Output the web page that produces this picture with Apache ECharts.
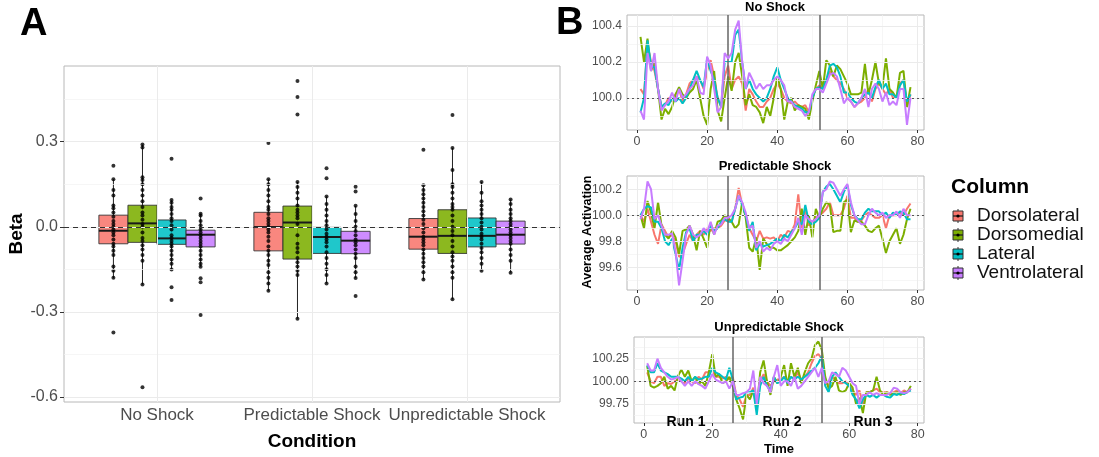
<!DOCTYPE html>
<html>
<head>
<meta charset="utf-8">
<script src="https://cdn.jsdelivr.net/npm/echarts@6/dist/echarts.min.js"></script>
<style>
  html, body { margin: 0; background: #fff; }
  #chart { width: 1099px; height: 457px; }
</style>
</head>
<body>
<div id="chart"></div>
<script>
// ---- data ----
const conditions = ['No Shock', 'Predictable Shock', 'Unpredictable Shock']
const columns = ['Dorsolateral', 'Dorsomedial', 'Lateral', 'Ventrolateral']
const colors = ['#F8766D', '#7CAE00', '#00BFC4', '#C77CFF']

// box stats per condition: [lower whisker, q1, median, q3, upper whisker]
const boxDorsolateral = [[-0.182, -0.060, -0.014, 0.041, 0.168], [-0.226, -0.085, -0.001, 0.051, 0.168], [-0.186, -0.079, -0.035, 0.029, 0.146]]
const boxDorsomedial = [[-0.204, -0.055, 0.012, 0.076, 0.290], [-0.324, -0.114, 0.015, 0.073, 0.158], [-0.256, -0.094, -0.032, 0.060, 0.278]]
const boxLateral = [[-0.151, -0.062, -0.041, 0.024, 0.094], [-0.200, -0.094, -0.036, -0.002, 0.107], [-0.155, -0.071, -0.032, 0.031, 0.158]]
const boxVentrolateral = [[-0.141, -0.071, -0.028, -0.012, 0.046], [-0.181, -0.095, -0.049, -0.016, 0.074], [-0.162, -0.061, -0.028, 0.020, 0.096]]

// individual betas per condition
const betaDorsolateral = [
  [0.215, 0.168, 0.13, 0.11, 0.075, 0.065, 0.05, 0.035, 0.02, 0.01, 0.0, -0.01, -0.02, -0.03, -0.045, -0.06, -0.07, -0.085, -0.1, -0.14, -0.155, -0.18, -0.373],
  [0.295, 0.168, 0.15, 0.13, 0.11, 0.09, 0.07, 0.06, 0.045, 0.03, 0.02, 0.01, 0.0, -0.01, -0.02, -0.035, -0.05, -0.07, -0.085, -0.1, -0.12, -0.135, -0.16, -0.18, -0.2, -0.226],
  [0.272, 0.146, 0.13, 0.115, 0.1, 0.085, 0.07, 0.055, 0.04, 0.025, 0.01, -0.005, -0.02, -0.035, -0.045, -0.055, -0.065, -0.08, -0.095, -0.11, -0.125, -0.14, -0.16, -0.186]
]
const betaDorsomedial = [
  [0.29, 0.28, 0.175, 0.165, 0.15, 0.13, 0.11, 0.09, 0.07, 0.05, 0.04, 0.025, 0.01, 0.0, -0.02, -0.04, -0.05, -0.065, -0.08, -0.1, -0.12, -0.204, -0.566],
  [0.514, 0.458, 0.396, 0.158, 0.14, 0.12, 0.1, 0.075, 0.06, 0.05, 0.04, 0.03, 0.01, -0.03, -0.06, -0.075, -0.09, -0.11, -0.125, -0.14, -0.155, -0.17, -0.324],
  [0.394, 0.278, 0.2, 0.15, 0.14, 0.12, 0.1, 0.08, 0.07, 0.06, 0.04, 0.02, 0.0, -0.015, -0.03, -0.05, -0.07, -0.09, -0.105, -0.12, -0.14, -0.16, -0.18, -0.256]
]
const betaLateral = [
  [0.24, 0.094, 0.085, 0.07, 0.06, 0.045, 0.03, 0.02, 0.005, -0.01, -0.03, -0.04, -0.05, -0.06, -0.07, -0.085, -0.1, -0.115, -0.13, -0.151, -0.213, -0.258],
  [0.206, 0.171, 0.107, 0.08, 0.06, 0.04, 0.02, 0.005, -0.01, -0.025, -0.035, -0.045, -0.055, -0.07, -0.09, -0.11, -0.13, -0.15, -0.17, -0.2],
  [0.158, 0.12, 0.09, 0.075, 0.06, 0.045, 0.03, 0.015, 0.0, -0.01, -0.025, -0.035, -0.045, -0.06, -0.075, -0.09, -0.11, -0.13, -0.155]
]
const betaVentrolateral = [
  [0.1, 0.046, 0.04, 0.02, 0.005, -0.01, -0.02, -0.03, -0.04, -0.05, -0.06, -0.07, -0.085, -0.1, -0.115, -0.13, -0.141, -0.182, -0.196, -0.311],
  [0.141, 0.124, 0.074, 0.045, 0.02, 0.0, -0.015, -0.03, -0.045, -0.055, -0.065, -0.08, -0.095, -0.11, -0.14, -0.16, -0.181, -0.244],
  [0.096, 0.08, 0.06, 0.045, 0.03, 0.02, 0.01, 0.0, -0.01, -0.02, -0.03, -0.04, -0.05, -0.06, -0.08, -0.1, -0.12, -0.162]
]

// average activation time courses (time 1..78)
const time = Array.from({ length: 78 }, (_, i) => i + 1)

const noShockDorsolateral = [
  100.05, 100.02, 100.3, 100.2, 100.15, 100.05, 99.95, 99.96, 100.0, 99.98,
  100.02, 100.05, 99.98, 100.02, 100.08, 100.1, 100.12, 100.1, 100.05, 100.15,
  100.21, 100.12, 100.0, 99.95, 100.12, 100.18, 100.05, 100.1, 100.12, 100.08,
  99.93, 100.05, 100.02, 99.98, 99.95, 99.95, 99.98, 100.0, 100.05, 100.08,
  100.05, 100.0, 99.98, 99.97, 99.98, 99.96, 99.95, 99.96, 99.92, 100.0,
  100.05, 100.07, 100.05, 100.1, 100.15, 100.12, 100.1, 100.08, 100.05, 100.0,
  99.98, 99.95, 99.97, 99.98, 100.0, 100.05, 99.98, 100.05, 100.08, 100.05,
  100.02, 100.05, 100.0, 100.0, 100.08, 100.1, 99.95, 100.02
]
const noShockDorsomedial = [
  100.34, 100.2, 100.33, 100.15, 100.2, 100.05, 99.88, 99.94, 99.91, 99.95,
  100.02, 100.06, 100.02, 100.0, 100.03, 100.05, 100.1, 100.0, 99.9, 99.85,
  100.05, 100.15, 99.93, 99.87, 100.0, 100.12, 100.04, 100.2, 100.25, 100.12,
  99.96, 100.02, 99.96, 99.95, 99.92, 99.86, 99.95, 99.9, 100.0, 100.12,
  100.05, 99.88, 99.98, 100.0, 99.93, 99.96, 99.95, 99.94, 99.88, 99.98,
  100.07, 100.15, 100.05, 100.21, 100.18, 100.12, 100.18, 100.16, 100.12, 100.08,
  100.02, 100.02, 100.02, 100.03, 100.19, 100.02, 100.1, 100.2, 100.08, 100.06,
  100.22, 100.05, 100.03, 100.0, 100.14, 100.15, 99.95, 100.06
]
const noShockLateral = [
  99.92, 100.0, 100.32, 100.18, 100.17, 100.05, 99.95, 99.97, 99.96, 100.0,
  99.98, 100.0, 99.97, 100.0, 100.05, 100.1, 100.15, 100.1, 100.06, 100.22,
  100.15, 100.1, 100.0, 99.95, 100.2, 100.2, 100.2, 100.35, 100.38, 100.2,
  100.05, 100.1, 100.05, 100.02, 100.0, 99.98, 100.0, 100.05, 100.12, 100.17,
  100.1, 100.05, 100.0, 99.98, 99.96, 99.95, 99.94, 99.92, 99.92, 100.0,
  100.05, 100.06, 100.05, 100.1, 100.18, 100.19, 100.17, 100.12, 100.03, 100.03,
  100.0, 99.98, 99.97, 100.0, 100.02, 100.03, 100.0, 100.06, 100.1, 100.05,
  100.08, 100.02, 100.02, 100.0, 100.07, 100.1, 99.98, 100.02
]
const noShockVentrolateral = [
  99.93, 99.88, 100.25, 100.15, 100.25, 100.05, 99.93, 99.96, 99.98, 100.03,
  99.98, 100.05, 100.0, 100.02, 100.05, 100.07, 100.12, 100.03, 100.02, 100.23,
  100.18, 100.05, 99.92, 99.95, 100.25, 100.22, 100.25, 100.38, 100.43, 100.2,
  100.05, 100.14, 100.1, 100.05, 100.08, 100.05, 100.07, 100.07, 100.1, 100.12,
  100.1, 100.07, 99.98, 99.98, 99.95, 99.94, 99.93, 99.9, 99.92, 100.02,
  100.05, 100.05, 100.03, 100.08, 100.13, 100.14, 100.12, 100.05, 99.97, 100.0,
  99.98, 99.95, 99.97, 100.0, 100.05, 99.95, 100.05, 100.08, 100.05, 99.98,
  100.03, 99.96, 99.98, 99.96, 100.05, 100.05, 99.85, 100.0
]

const predDorsolateral = [
  100.0, 99.95, 100.05, 99.95, 99.85, 99.78, 99.93, 99.88, 99.83, 99.85,
  99.8, 99.68, 99.7, 99.78, 99.85, 99.8, 99.85, 99.88, 99.85, 99.9,
  99.88, 99.9, 99.9, 99.92, 99.96, 99.96, 99.95, 100.05, 100.21, 100.08,
  100.0, 99.9, 99.85, 99.8, 99.88, 99.82, 99.83, 99.82, 99.83, 99.8,
  99.85, 99.83, 99.88, 99.87, 99.93, 100.16, 99.9, 100.05, 99.92, 99.95,
  99.98, 100.0, 100.02, 100.05, 100.1, 100.0, 100.0, 100.0, 100.05, 100.15,
  99.98, 99.98, 99.95, 99.96, 100.0, 100.02, 100.0, 99.98, 99.98, 100.0,
  99.9, 100.0, 100.0, 100.0, 100.02, 100.0, 100.05, 100.09
]
const predDorsomedial = [
  100.0, 99.9, 100.11, 100.02, 99.9, 100.1, 99.92, 99.85, 99.82, 99.88,
  99.83, 99.7, 99.88, 99.89, 99.92, 99.85, 99.73, 99.88, 99.82, 99.75,
  99.94, 99.85, 99.95, 99.96, 100.0, 99.98, 99.95, 99.9, 99.93, 100.1,
  99.98, 99.75, 99.72, 99.83, 99.58, 99.82, 99.78, 99.75, 99.75, 99.73,
  99.73, 99.75, 99.77, 99.8, 99.83, 99.88, 100.05, 99.85, 100.0, 99.83,
  100.05, 99.98, 100.05, 100.1, 100.08, 99.87, 99.88, 99.88, 100.1, 100.12,
  99.87, 99.96, 99.95, 99.95, 99.92, 99.88, 99.87, 99.9, 99.92, 99.82,
  99.71, 99.8, 99.85, 99.9, 99.78, 99.85, 99.97, 100.05
]
const predLateral = [
  100.0, 100.05, 100.07, 100.06, 99.95, 99.95, 99.9, 99.8, 99.77, 99.82,
  99.7, 99.58, 99.75, 99.87, 99.9, 99.8, 99.85, 99.85, 99.88, 99.85,
  99.92, 99.88, 99.9, 99.95, 99.97, 99.95, 99.95, 100.05, 100.15, 100.08,
  100.0, 99.88, 99.95, 99.73, 99.78, 99.76, 99.77, 99.78, 99.8, 99.82,
  99.8, 99.85, 99.83, 99.87, 99.9, 99.95, 99.93, 100.08, 99.95, 99.93,
  99.95, 99.98, 100.18, 100.22, 100.24, 100.2, 100.15, 100.1, 100.18, 100.23,
  100.08, 100.0, 99.97, 99.97, 100.02, 100.05, 100.03, 100.03, 100.03, 100.0,
  100.02, 99.98, 100.02, 100.0, 100.03, 100.02, 99.97, 99.97
]
const predVentrolateral = [
  99.97, 100.05, 100.26, 100.2, 99.97, 100.0, 99.92, 99.85, 99.85, 99.86,
  99.72, 99.46, 99.65, 99.85, 99.92, 99.85, 99.83, 99.85, 99.9, 99.87,
  99.95, 99.85, 99.92, 99.93, 99.98, 99.98, 100.0, 100.05, 100.15, 100.1,
  100.02, 99.9, 99.92, 99.75, 99.8, 99.72, 99.75, 99.73, 99.78, 99.8,
  99.78, 99.82, 99.8, 99.85, 99.9, 99.98, 99.85, 100.0, 99.97, 99.95,
  99.97, 100.0, 100.18, 100.2, 100.26, 100.25, 100.2, 100.15, 100.2, 100.24,
  100.1, 100.0, 99.96, 99.93, 99.93, 100.0, 100.05, 100.02, 100.0, 100.02,
  99.98, 100.0, 100.0, 100.03, 99.98, 100.05, 100.0, 100.0
]

const unpredDorsolateral = [
  100.1, 100.0, 99.98, 100.05, 100.05, 99.95, 99.98, 99.97, 100.0, 100.02,
  100.0, 99.98, 100.03, 100.0, 99.98, 100.05, 100.02, 100.1, 100.1, 100.12,
  100.05, 100.05, 100.03, 100.05, 100.02, 100.05, 99.85, 99.8, 99.72, 99.85,
  99.85, 99.93, 99.75, 100.0, 100.08, 100.0, 99.95, 100.0, 100.02, 100.02,
  100.05, 100.0, 100.05, 100.02, 100.1, 100.02, 100.05, 100.1, 100.2, 100.28,
  100.3, 100.25, 100.0, 99.95, 100.05, 100.02, 99.98, 99.98, 100.0, 99.95,
  99.9, 99.85, 99.9, 99.75, 99.88, 99.88, 99.9, 99.92, 99.88, 99.88,
  99.88, 99.87, 99.88, 99.9, 99.87, 99.9, 99.88, 99.92
]
const unpredDorsomedial = [
  100.17, 99.95, 99.93, 99.95, 99.98, 100.05, 99.92, 99.95, 99.9, 100.06,
  100.13, 100.05, 100.12, 100.0, 100.05, 99.97, 100.0, 99.95, 100.1, 100.3,
  100.05, 100.08, 99.98, 100.0, 100.05, 99.95, 99.8, 99.7, 99.58, 99.85,
  99.8, 99.9, 99.7, 100.1, 100.23, 100.0, 99.85, 100.05, 99.98, 100.05,
  100.18, 99.95, 100.2, 100.05, 100.15, 99.98, 100.1, 100.2, 100.25, 100.4,
  100.44, 100.35, 100.05, 99.92, 99.95, 100.05, 99.9, 99.88, 99.9, 99.98,
  99.93, 99.75, 99.82, 99.65, 99.88, 99.88, 99.9, 100.05, 99.9, 99.85,
  99.88, 99.85, 99.87, 99.88, 99.85, 99.88, 99.88, 99.95
]
const unpredLateral = [
  100.18, 100.1, 100.1, 100.2, 100.12, 100.1, 100.08, 100.05, 100.05, 100.05,
  100.03, 100.0, 100.05, 100.0, 100.05, 100.02, 100.03, 100.05, 100.05, 100.15,
  100.1, 100.08, 100.05, 100.02, 100.15, 100.02, 99.8, 99.82, 99.83, 99.88,
  99.88, 99.9, 99.63, 99.95, 100.05, 99.95, 99.9, 100.05, 99.98, 100.0,
  100.05, 99.98, 100.05, 100.02, 100.05, 100.02, 100.05, 100.08, 100.12, 100.15,
  100.2, 100.28, 99.95, 99.88, 100.05, 100.1, 100.05, 100.0, 99.98, 99.95,
  99.85, 99.8, 99.7, 99.8, 99.85, 99.83, 99.85, 99.82, 99.85, 99.85,
  99.83, 99.82, 99.86, 99.85, 99.87, 99.86, 99.88, 99.9
]
const unpredVentrolateral = [
  100.2, 100.12, 100.12, 100.25, 100.15, 100.1, 100.05, 100.02, 100.03, 100.05,
  100.0, 99.95, 100.0, 99.95, 100.0, 99.97, 99.95, 99.92, 100.0, 100.08,
  100.02, 100.0, 99.98, 100.0, 99.92, 100.0, 99.85, 99.85, 99.87, 99.88,
  99.92, 100.12, 99.75, 100.05, 99.98, 99.95, 99.88, 100.05, 100.18, 99.95,
  100.0, 100.0, 99.95, 100.05, 99.92, 99.95, 100.0, 100.05, 100.1, 100.15,
  100.05, 100.15, 99.98, 100.0, 100.1, 100.08, 100.05, 100.15, 100.12, 100.05,
  99.98, 99.95, 99.75, 99.85, 99.85, 99.88, 99.85, 99.87, 99.85, 99.85,
  99.85, 99.87, 99.93, 99.92, 99.88, 99.87, 99.88, 99.92
]

const runBoundaries = [26, 52]
const runLabels = ['Run 1', 'Run 2', 'Run 3']
const timeTicks = [0, 20, 40, 60, 80]

// ---- layout / style ----
const FONT = 'Liberation Sans, Arial, sans-serif'
const GREY_TXT = '#4d4d4d'
const GRID_COL = '#ebebeb'
const BORDER = '#b8b8b8'

const boxes = [boxDorsolateral, boxDorsomedial, boxLateral, boxVentrolateral]
const betas = [betaDorsolateral, betaDorsomedial, betaLateral, betaVentrolateral]
const dodge = [-0.28125, -0.09375, 0.09375, 0.28125]
const boxWidth = 0.1875

const chart = echarts.init(document.getElementById('chart'))

const boxRender = (col) => (params, api) => {
  const xc = api.value(0) + dodge[col]
  const half = boxWidth / 2
  const lo = api.coord([xc, api.value(1)])
  const hi = api.coord([xc, api.value(5)])
  const tl = api.coord([xc - half, api.value(4)])
  const br = api.coord([xc + half, api.value(2)])
  const mL = api.coord([xc - half, api.value(3)])
  const mR = api.coord([xc + half, api.value(3)])
  return {
    type: 'group',
    children: [
      { type: 'line', shape: { x1: lo[0], y1: lo[1], x2: hi[0], y2: hi[1] }, style: { stroke: '#222', lineWidth: 1 } },
      { type: 'rect', shape: { x: tl[0], y: tl[1], width: br[0] - tl[0], height: br[1] - tl[1] },
        style: { fill: colors[col], opacity: 0.88, stroke: '#333', lineWidth: 1 } },
      { type: 'line', shape: { x1: mL[0], y1: mL[1], x2: mR[0], y2: mR[1] }, style: { stroke: '#1a1a1a', lineWidth: 2 } }
    ]
  }
}

const gridLines = (xIdx, yIdx, xs, ys, minorXs, minorYs) => ({
  type: 'line', xAxisIndex: xIdx, yAxisIndex: yIdx, data: [], silent: true, z: 0,
  markLine: {
    silent: true, symbol: 'none', animation: false, label: { show: false },
    data: [
      ...minorYs.map(v => ({ yAxis: v, lineStyle: { color: '#f2f2f2', width: 0.7, type: 'solid' } })),
      ...minorXs.map(v => ({ xAxis: v, lineStyle: { color: '#f2f2f2', width: 0.7, type: 'solid' } })),
      ...ys.map(v => ({ yAxis: v, lineStyle: { color: GRID_COL, width: 1, type: 'solid' } })),
      ...xs.map(v => ({ xAxis: v, lineStyle: { color: GRID_COL, width: 1, type: 'solid' } }))
    ]
  }
})

const timeAxis = (gridIndex, showName) => ({
  type: 'value', gridIndex, min: -2.85, max: 81.85,
  axisLine: { show: false }, splitLine: { show: false },
  axisTick: { show: true, customValues: timeTicks, length: 3, lineStyle: { color: '#333' } },
  axisLabel: { customValues: timeTicks, color: GREY_TXT, fontSize: 12.5, fontFamily: FONT, margin: 5 },
  name: showName ? 'Time' : '', nameLocation: 'middle', nameGap: 20,
  nameTextStyle: { fontWeight: 'bold', fontSize: 13, color: '#000', fontFamily: FONT }
})

const actAxis = (gridIndex, min, max, ticks, digits) => ({
  type: 'value', gridIndex, min, max,
  axisLine: { show: false }, splitLine: { show: false },
  axisTick: { show: true, customValues: ticks, length: 3, lineStyle: { color: '#333' } },
  axisLabel: { customValues: ticks, color: GREY_TXT, fontSize: 12, fontFamily: FONT, margin: 5,
    formatter: v => v.toFixed(digits) }
})

const panels = [
  { data: [noShockDorsolateral, noShockDorsomedial, noShockLateral, noShockVentrolateral],
    yTicks: [100.0, 100.2, 100.4], yMinor: [99.9, 100.1, 100.3] },
  { data: [predDorsolateral, predDorsomedial, predLateral, predVentrolateral],
    yTicks: [99.6, 99.8, 100.0, 100.2], yMinor: [99.5, 99.7, 99.9, 100.1] },
  { data: [unpredDorsolateral, unpredDorsomedial, unpredLateral, unpredVentrolateral],
    yTicks: [99.75, 100.0, 100.25], yMinor: [99.625, 99.875, 100.125, 100.375] }
]

const series = []

// Panel A
series.push(gridLines(0, 0, [1, 2, 3], [-0.6, -0.3, 0, 0.3], [], [-0.45, -0.15, 0.15, 0.45]))
series.push({
  type: 'line', xAxisIndex: 0, yAxisIndex: 0, data: [], silent: true, z: 1,
  markLine: { silent: true, symbol: 'none', animation: false, label: { show: false },
    data: [{ yAxis: 0 }], lineStyle: { color: '#333', width: 1.2, type: [5, 4] } }
})
columns.forEach((name, col) => {
  series.push({
    name, type: 'custom', xAxisIndex: 0, yAxisIndex: 0, z: 3,
    renderItem: boxRender(col),
    encode: { x: 0, y: [1, 2, 3, 4, 5] },
    data: boxes[col].map((b, ci) => [ci + 1, ...b])
  })
})
columns.forEach((name, col) => {
  const pts = []
  betas[col].forEach((vals, ci) => vals.forEach(v => pts.push([ci + 1 + dodge[col], v])))
  series.push({
    type: 'scatter', xAxisIndex: 0, yAxisIndex: 0, z: 4, symbolSize: 4,
    itemStyle: { color: '#000' }, data: pts, silent: true
  })
})

// Panel B
panels.forEach((p, i) => {
  const g = i + 1
  series.push(gridLines(g, g, timeTicks, p.yTicks, [10, 30, 50, 70], p.yMinor))
  series.push({
    type: 'line', xAxisIndex: g, yAxisIndex: g, data: [], silent: true, z: 1,
    markLine: { silent: true, symbol: 'none', animation: false, label: { show: false },
      data: [
        { yAxis: 100, lineStyle: { color: '#555', width: 1.2, type: [2, 3] } },
        ...runBoundaries.map(v => ({ xAxis: v, lineStyle: { color: '#666', width: 1.5, type: 'solid' } }))
      ] }
  })
  p.data.forEach((arr, col) => {
    series.push({
      name: columns[col], type: 'line', xAxisIndex: g, yAxisIndex: g, z: 2 + col,
      showSymbol: false, silent: true,
      lineStyle: { color: colors[col], width: 2 }, itemStyle: { color: colors[col] },
      data: time.map((t, k) => [t, arr[k]])
    })
  })
})

// legend drawn as ggplot-like keys
const legendItems = columns.map((name, col) => {
  const y = 210 + col * 19
  return [
    { type: 'line', shape: { x1: 958, y1: y - 1, x2: 958, y2: y + 13 }, style: { stroke: '#333', lineWidth: 1 } },
    { type: 'rect', shape: { x: 953, y: y + 1, width: 10, height: 10 }, style: { fill: colors[col], stroke: '#333', lineWidth: 1 } },
    { type: 'line', shape: { x1: 953, y1: y + 6, x2: 963, y2: y + 6 }, style: { stroke: '#222', lineWidth: 1.3 } },
    { type: 'circle', shape: { cx: 958, cy: y + 6, r: 1.6 }, style: { fill: '#000' } },
    { type: 'text', x: 977, y: y + 6, style: { text: name, fontSize: 19, fontFamily: FONT, fill: '#111', verticalAlign: 'middle' } }
  ]
}).flat()

const titleStyle = { fontSize: 13, fontWeight: 'bold', fontFamily: FONT, fill: '#000', align: 'center', verticalAlign: 'middle' }

const option = {
  animation: false,
  backgroundColor: '#fff',
  grid: [
    { left: 64, top: 66, width: 496, height: 336, show: true, borderColor: BORDER, borderWidth: 1, backgroundColor: '#fff' },
    { left: 627, top: 15, width: 297, height: 115, show: true, borderColor: BORDER, borderWidth: 1, backgroundColor: '#fff' },
    { left: 627, top: 176, width: 297, height: 114, show: true, borderColor: BORDER, borderWidth: 1, backgroundColor: '#fff' },
    { left: 634, top: 337, width: 290, height: 94, show: true, borderColor: BORDER, borderWidth: 1, backgroundColor: '#fff' }
  ],
  xAxis: [
    {
      type: 'value', gridIndex: 0, min: 0.4, max: 3.6,
      axisLine: { show: false }, splitLine: { show: false },
      axisTick: { show: true, customValues: [1, 2, 3], length: 4, lineStyle: { color: '#333' } },
      axisLabel: { customValues: [1, 2, 3], color: GREY_TXT, fontSize: 17, fontFamily: FONT, margin: 5,
        formatter: v => conditions[Math.round(v) - 1] },
      name: 'Condition', nameLocation: 'middle', nameGap: 30,
      nameTextStyle: { fontWeight: 'bold', fontSize: 19, color: '#000', fontFamily: FONT }
    },
    timeAxis(1, false), timeAxis(2, false), timeAxis(3, true)
  ],
  yAxis: [
    {
      type: 'value', gridIndex: 0, min: -0.618, max: 0.567,
      axisLine: { show: false }, splitLine: { show: false },
      axisTick: { show: true, customValues: [-0.6, -0.3, 0, 0.3], length: 4, lineStyle: { color: '#333' } },
      axisLabel: { customValues: [-0.6, -0.3, 0, 0.3], color: GREY_TXT, fontSize: 16, fontFamily: FONT, margin: 6,
        formatter: v => v.toFixed(1) },
      name: 'Beta', nameLocation: 'middle', nameGap: 38,
      nameTextStyle: { fontWeight: 'bold', fontSize: 19, color: '#000', fontFamily: FONT }
    },
    actAxis(1, 99.822, 100.461, panels[0].yTicks, 1),
    actAxis(2, 99.425, 100.302, panels[1].yTicks, 1),
    actAxis(3, 99.54, 100.49, panels[2].yTicks, 2)
  ],
  graphic: [
    { type: 'text', left: 20, top: 6, style: { text: 'A', fontSize: 38, fontWeight: 'bold', fontFamily: FONT, fill: '#000' } },
    { type: 'text', left: 556, top: 5, style: { text: 'B', fontSize: 38, fontWeight: 'bold', fontFamily: FONT, fill: '#000' } },
    { type: 'text', x: 775, y: 7, style: { ...titleStyle, text: 'No Shock' } },
    { type: 'text', x: 775, y: 166, style: { ...titleStyle, text: 'Predictable Shock' } },
    { type: 'text', x: 779, y: 327, style: { ...titleStyle, text: 'Unpredictable Shock' } },
    { type: 'text', x: 588, y: 232, rotation: Math.PI / 2,
      style: { ...titleStyle, fontSize: 12.5, text: 'Average Activation' } },
    { type: 'text', x: 686, y: 422, style: { ...titleStyle, fontSize: 14, text: runLabels[0] } },
    { type: 'text', x: 782, y: 422, style: { ...titleStyle, fontSize: 14, text: runLabels[1] } },
    { type: 'text', x: 873, y: 422, style: { ...titleStyle, fontSize: 14, text: runLabels[2] } },
    { type: 'text', x: 951, y: 187, style: { text: 'Column', fontSize: 21, fontWeight: 'bold', fontFamily: FONT, fill: '#000', verticalAlign: 'middle' } },
    ...legendItems
  ],
  series
}

chart.setOption(option)
window.addEventListener('resize', () => chart.resize())
</script>
</body>
</html>
